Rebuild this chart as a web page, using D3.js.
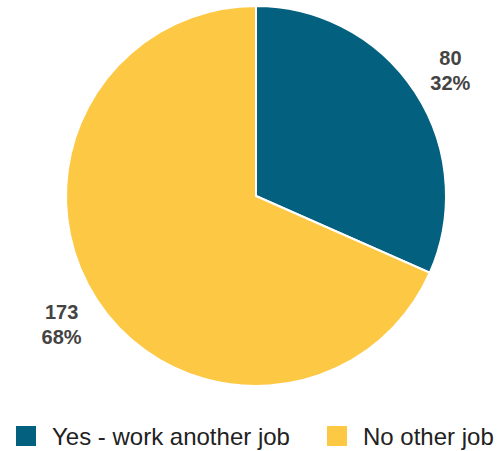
<!DOCTYPE html>
<html><head><meta charset="utf-8">
<script src="https://cdn.jsdelivr.net/npm/d3@7"></script>
<style>body{margin:0;background:#fff;}svg{display:block;font-family:Arial,"Liberation Sans",sans-serif;}</style>
</head><body>
<svg id="c" width="504" height="451"></svg>
<script>
const categories = ["Yes - work another job", "No other job"];
const values = [80, 173];
const percents = ["32%", "68%"];
const colors = ["#03617f", "#fdc843"];

const svg = d3.select("#c");
const cx = 256, cy = 196, r = 190;
const pie = d3.pie().sort(null).value(d => d)(values);
const arc = d3.arc().innerRadius(0).outerRadius(r);
const labelArc = d3.arc().innerRadius(232).outerRadius(232);
const g = svg.append("g").attr("transform", `translate(${cx},${cy})`);
g.selectAll("path").data(pie).join("path")
  .attr("d", arc).attr("fill", (d, i) => colors[i])
  .attr("stroke", "#fff").attr("stroke-width", 2);

const lab = g.selectAll("text.lab").data(pie).join("text").attr("class", "lab")
  .attr("transform", d => { const [x, y] = labelArc.centroid(d); return `translate(${x},${y})`; })
  .attr("text-anchor", "middle").attr("font-weight", "bold").attr("font-size", 20).attr("fill", "#444");
lab.append("tspan").attr("x", 0).attr("y", -4).text((d, i) => values[i]);
lab.append("tspan").attr("x", 0).attr("y", 21).text((d, i) => percents[i]);

const legX = [16, 327];
const leg = svg.append("g");
categories.forEach((c, i) => {
  leg.append("rect").attr("x", legX[i]).attr("y", 426).attr("width", 20).attr("height", 20).attr("fill", colors[i]);
  leg.append("text").attr("x", legX[i] + 36).attr("y", 445).attr("font-size", 24).attr("fill", "#222").text(c);
});
</script>
</body></html>
